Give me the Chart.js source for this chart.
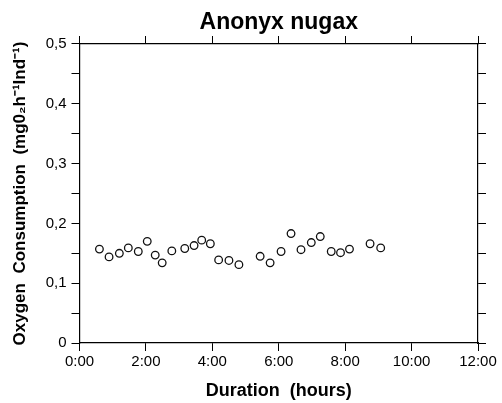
<!DOCTYPE html>
<html>
<head>
<meta charset="utf-8">
<script src="https://cdn.jsdelivr.net/npm/chart.js@4.4.0/dist/chart.umd.min.js"></script>
<style>
  html, body { margin: 0; padding: 0; background: #fff; }
  canvas { display: block; }
</style>
</head>
<body>
<canvas id="chart" width="502" height="403"></canvas>
<script>
// Duration in hours and oxygen consumption (mg O2 / h / ind)
const hours = [0.60, 0.89, 1.20, 1.47, 1.77, 2.04, 2.28, 2.49, 2.78, 3.17,
               3.45, 3.68, 3.94, 4.19, 4.50, 4.80, 5.44, 5.74, 6.07, 6.37,
               6.67, 6.98, 7.25, 7.58, 7.86, 8.13, 8.75, 9.07]
const consumption = [0.157, 0.144, 0.150, 0.159, 0.153, 0.170, 0.147, 0.134, 0.154, 0.158,
                     0.163, 0.172, 0.166, 0.139, 0.138, 0.131, 0.145, 0.134, 0.153, 0.183,
                     0.156, 0.168, 0.178, 0.153, 0.151, 0.157, 0.166, 0.159]

const xTicks = [0, 2, 4, 6, 8, 10, 12]
const yTicks = [0, 0.1, 0.2, 0.3, 0.4, 0.5]

const black = '#000'
Chart.defaults.font.family = '"Liberation Sans", Arial, Helvetica, sans-serif'
Chart.defaults.color = black

const fmtY = (v) => {
  const hit = yTicks.find(t => Math.abs(t - v) < 1e-6)
  if (hit === undefined) return ''
  return hit === 0 ? '0' : hit.toFixed(1).replace('.', ',')
}

// shared look for the frame axes
const frameGrid = (len) => ({
  drawOnChartArea: false,
  drawTicks: true,
  tickLength: len,
  tickColor: black,
  tickWidth: 1
})
const frameBorder = { display: true, color: black, width: 1.2 }

new Chart(document.getElementById('chart').getContext('2d'), {
  type: 'scatter',
  data: {
    datasets: [{
      data: hours.map((h, i) => ({ x: h, y: consumption[i] })),
      pointStyle: 'circle',
      pointRadius: 3.8,
      pointBorderWidth: 1.3,
      pointBorderColor: '#111',
      pointBackgroundColor: 'rgba(255,255,255,0)'
    }]
  },
  options: {
    responsive: false,
    animation: false,
    layout: { padding: 0 },
    plugins: {
      legend: { display: false },
      tooltip: { enabled: false },
      title: {
        display: true,
        fullSize: false,
        text: 'Anonyx nugax',
        color: black,
        font: { size: 23, weight: 'bold' },
        padding: { top: 9, bottom: 0 }
      }
    },
    scales: {
      x: {
        type: 'linear',
        position: 'bottom',
        min: 0, max: 12,
        afterFit: (s) => { s.height = 60 },
        ticks: {
          stepSize: 2,
          autoSkip: false,
          maxRotation: 0,
          padding: 2,
          font: { size: 15 },
          callback: (v) => xTicks.includes(v) ? v + ':00' : ''
        },
        grid: frameGrid(8),
        border: frameBorder,
        title: {
          display: true,
          text: 'Duration  (hours)',
          font: { size: 18, weight: 'bold' },
          padding: { top: 0, bottom: 1 }
        }
      },
      xTop: {
        type: 'linear',
        position: 'top',
        min: 0, max: 12,
        afterFit: (s) => { s.height = 7.4 },
        ticks: { stepSize: 2, display: false },
        grid: frameGrid(8),
        border: frameBorder
      },
      y: {
        type: 'linear',
        position: 'left',
        min: 0, max: 0.5,
        afterFit: (s) => { s.width = 79.5 },
        ticks: {
          stepSize: 0.05,
          autoSkip: false,
          padding: 5,
          font: { size: 15 },
          callback: fmtY
        },
        grid: frameGrid(8),
        border: frameBorder,
        title: {
          display: true,
          text: 'Oxygen  Consumption  (mg0\u2082h\u207B\u00B9Ind\u207B\u00B9)',
          font: { size: 17, weight: 'bold' },
          padding: { top: 10, bottom: 0 }
        }
      },
      yRight: {
        type: 'linear',
        position: 'right',
        min: 0, max: 0.5,
        afterFit: (s) => { s.width = 24 },
        ticks: { stepSize: 0.05, display: false },
        grid: frameGrid(8),
        border: frameBorder
      }
    }
  }
})
</script>
</body>
</html>
